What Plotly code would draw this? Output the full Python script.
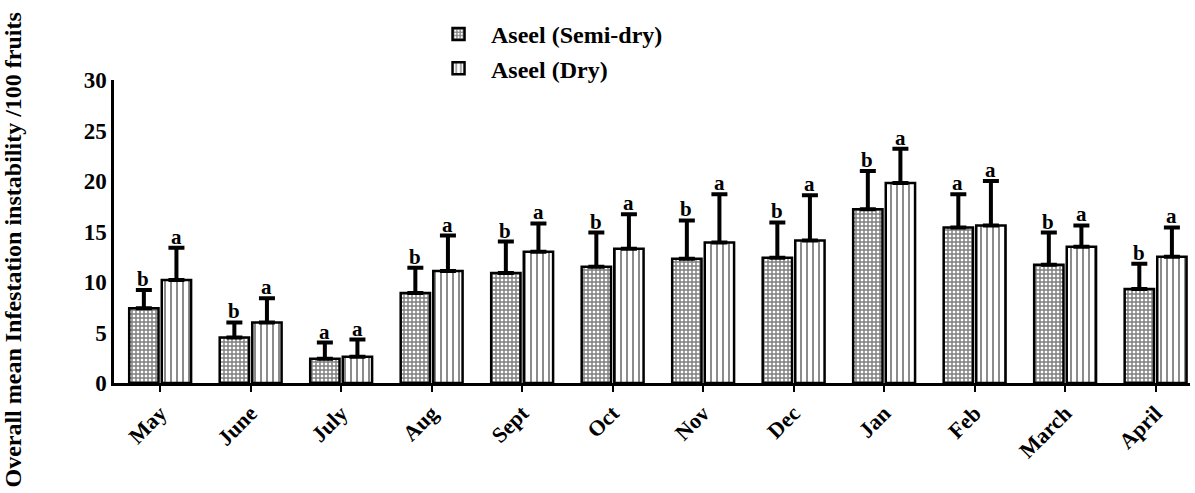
import plotly.graph_objects as go

months = ["May", "June", "July", "Aug", "Sept", "Oct", "Nov", "Dec", "Jan", "Feb", "March", "April"]

semi_dry_mean = [7.4, 4.5, 2.4, 8.9, 10.9, 11.5, 12.3, 12.4, 17.2, 15.4, 11.7, 9.3]
semi_dry_err = [1.8, 1.5, 1.6, 2.5, 3.1, 3.4, 3.8, 3.5, 3.8, 3.3, 3.2, 2.5]
dry_mean = [10.2, 6.0, 2.6, 11.1, 13.0, 13.3, 13.9, 14.1, 19.8, 15.6, 13.5, 12.5]
dry_err = [3.2, 2.4, 1.7, 3.5, 2.8, 3.4, 4.8, 4.5, 3.4, 4.4, 2.1, 2.9]

semi_dry_letters = ["b", "b", "a", "b", "b", "b", "b", "b", "b", "a", "b", "b"]
dry_letters = ["a", "a", "a", "a", "a", "a", "a", "a", "a", "a", "a", "a"]

SERIF = "Liberation Serif"

fig = go.Figure()

fig.add_trace(go.Bar(
    name="Aseel (Semi-dry)",
    x=months, y=semi_dry_mean,
    marker=dict(color="white", line=dict(color="black", width=2.5),
                pattern=dict(shape="+", size=4, solidity=0.6,
                             fgcolor="black", bgcolor="white")),
    error_y=dict(type="data", array=semi_dry_err, symmetric=False,
                 arrayminus=[0] * len(months), color="black",
                 thickness=4, width=8),
))
fig.add_trace(go.Bar(
    name="Aseel (Dry)",
    x=months, y=dry_mean,
    marker=dict(color="white", line=dict(color="black", width=2.5),
                pattern=dict(shape="|", size=6, solidity=0.3,
                             fgcolor="black", bgcolor="white")),
    error_y=dict(type="data", array=dry_err, symmetric=False,
                 arrayminus=[0] * len(months), color="black",
                 thickness=4, width=8),
))

# significance letters above each error bar
letter_font = dict(family=SERIF, size=21, color="black", weight="bold")
annotations = []
for i, m in enumerate(months):
    annotations.append(dict(x=m, y=semi_dry_mean[i] + semi_dry_err[i],
                            text=semi_dry_letters[i], showarrow=False,
                            xshift=-17, yanchor="bottom", yshift=-3,
                            font=letter_font))
    annotations.append(dict(x=m, y=dry_mean[i] + dry_err[i],
                            text=dry_letters[i], showarrow=False,
                            xshift=16, yanchor="bottom", yshift=-3,
                            font=letter_font))

# y-axis title
annotations.append(dict(xref="paper", yref="paper", x=-0.094, y=0.44,
                        text="Overall mean Infestation instability /100 fruits",
                        textangle=-90, showarrow=False, xanchor="center", yanchor="middle",
                        font=dict(family=SERIF, size=24, color="black", weight="bold")))

fig.update_layout(
    width=1195, height=493,
    margin=dict(l=114, r=5, t=80, b=110),
    paper_bgcolor="white", plot_bgcolor="white",
    barmode="group", bargap=0.28, bargroupgap=0.1,
    showlegend=True,
    legend=dict(x=0.29, y=1.225, xanchor="left", yanchor="top",
                font=dict(family=SERIF, size=24, color="black", weight="bold"),
                bgcolor="rgba(0,0,0,0)", itemwidth=55, tracegroupgap=2),
    annotations=annotations,
    font=dict(family=SERIF, color="black"),
)

fig.update_xaxes(
    range=[-0.51, 11.38], showline=True, linecolor="black", linewidth=2.5,
    ticks="outside", ticklen=6, tickwidth=2, tickcolor="black",
    tickangle=-45, showgrid=False, zeroline=False,
    tickfont=dict(family=SERIF, size=22, color="black", weight="bold"),
)
fig.update_yaxes(
    range=[0, 30], tickvals=[0, 5, 10, 15, 20, 25, 30],
    showline=True, linecolor="black", linewidth=2.5, ticks="",
    showgrid=False, zeroline=False,
    tickfont=dict(family=SERIF, size=23, color="black", weight="bold"),
)

fig.write_html("out.html")
